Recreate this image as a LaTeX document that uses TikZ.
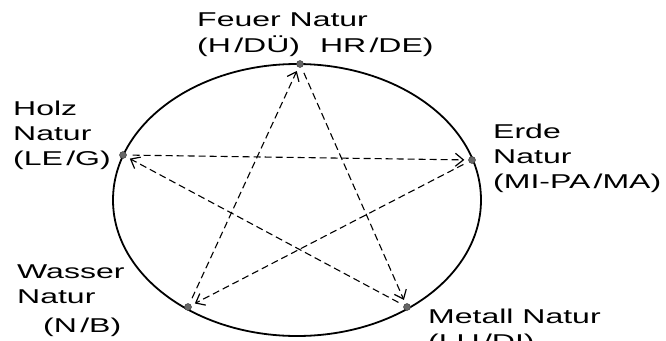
\documentclass[tikz,border=0pt]{standalone}
\usepackage{fontspec}
\setmainfont{Liberation Sans}[FakeStretch=1.6]
\usetikzlibrary{arrows.meta}

\begin{document}
\begin{tikzpicture}[
  x=1pt, y=-1pt,
  font=\fontsize{20}{25}\selectfont,
  dot/.style={circle, fill=black!60, draw=black!80, inner sep=0pt, minimum size=7pt},
  lbl/.style={anchor=base west, align=left, inner sep=0pt},
  arr/.style={-{Straight Barb[length=8pt, width=13pt, line width=1.2pt]}, dashed,
    dash pattern=on 7pt off 4pt, line width=1.1pt, shorten <=6pt, shorten >=4pt}
]
  \useasboundingbox (0,0) rectangle (666,340);

  % Circle of the five elements
  \draw[line width=1.8pt] (297,200) ellipse [x radius=184, y radius=136];

  % Element points on the circle
  \node[dot] (feuer) at (300,64) {};
  \node[dot] (holz) at (123,155) {};
  \node[dot] (erde) at (472,160) {};
  \node[dot] (wasser) at (188,307) {};
  \node[dot] (metall) at (407,307) {};

  % Labels (placed at the baseline of their last line)
  \node[lbl] (feuerlbl) at (197,52) {Feuer Natur\\(H\,/DÜ)\quad HR\,/DE)};
  \node[lbl] (holzlbl) at (13,165) {Holz\\Natur\\(LE\,/G)};
  \node[lbl] (erdelbl) at (493,188) {Erde\\Natur\\(MI-PA\,/MA)};
  \node[lbl] (wasserlbl) at (17,303) {Wasser\\Natur};
  \node[lbl] (wasserlbl2) at (43,332) {(N\,/B)};
  \node[lbl] (metalllbl) at (428,348) {Metall Natur\\(LU\,/DI)};

  % Control cycle
  \draw[arr] (holz) -- (erde);
  \draw[arr] (erde) -- (wasser);
  \draw[arr] (wasser) -- (feuer);
  \draw[arr] (feuer) -- (metall);
  \draw[arr] (metall) -- (holz);
\end{tikzpicture}
\end{document}
